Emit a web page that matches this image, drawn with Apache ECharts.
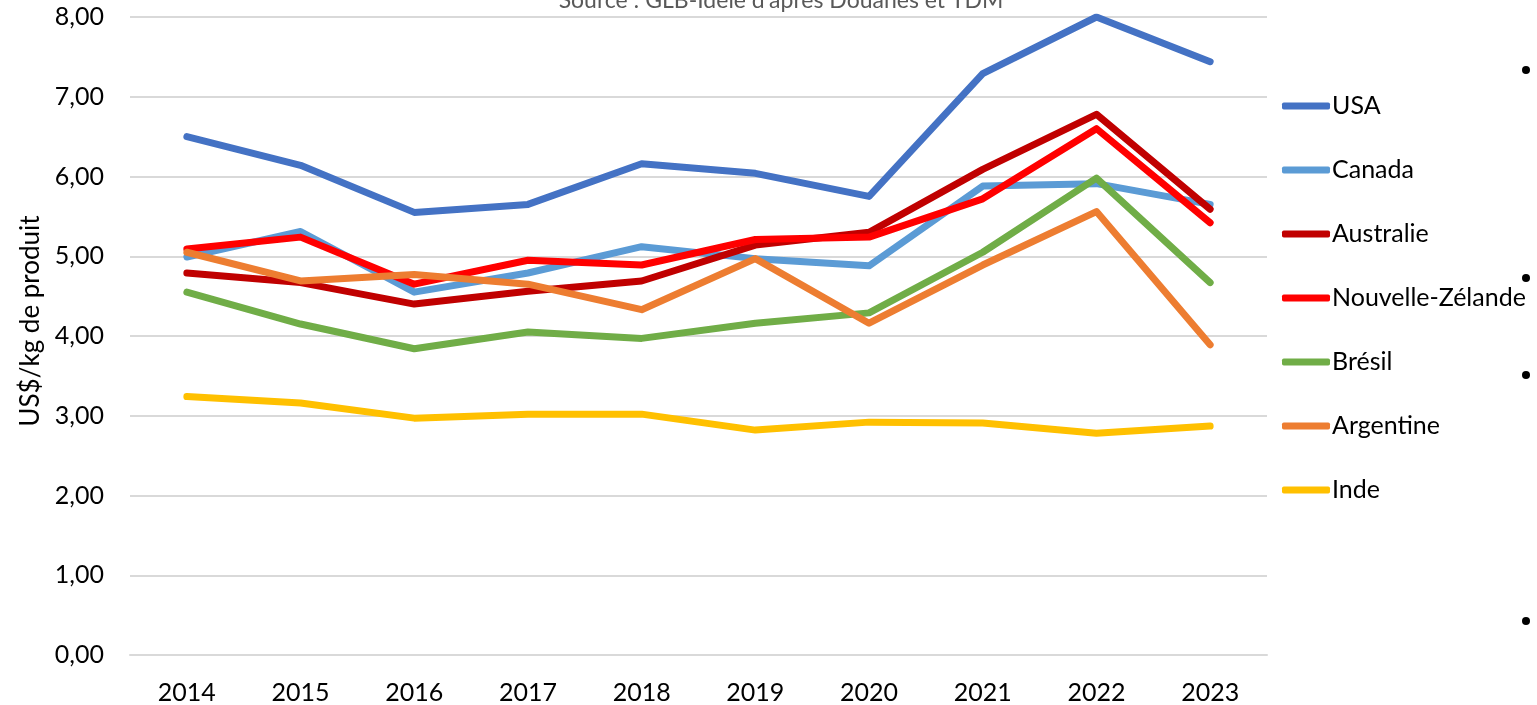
<!DOCTYPE html>
<html>
<head>
<meta charset="utf-8">
<script src="https://cdn.jsdelivr.net/npm/echarts@6/dist/echarts.min.js"></script>
<style>
  html, body { margin: 0; padding: 0; background: #fff; }
  #main { width: 1537px; height: 705px; }
</style>
</head>
<body>
<div id="main"></div>
<script>
// données (US$/kg de produit)
var years = ['2014', '2015', '2016', '2017', '2018', '2019', '2020', '2021', '2022', '2023'];
var usa = [6.50, 6.14, 5.55, 5.65, 6.16, 6.04, 5.75, 7.29, 8.00, 7.44];
var canada = [4.99, 5.31, 4.55, 4.79, 5.12, 4.97, 4.88, 5.88, 5.91, 5.65];
var australie = [4.79, 4.67, 4.40, 4.56, 4.69, 5.14, 5.30, 6.09, 6.78, 5.59];
var nouvelleZelande = [5.09, 5.24, 4.65, 4.95, 4.89, 5.21, 5.24, 5.72, 6.60, 5.42];
var bresil = [4.55, 4.15, 3.84, 4.05, 3.97, 4.16, 4.29, 5.05, 5.98, 4.67];
var argentine = [5.05, 4.69, 4.77, 4.65, 4.33, 4.97, 4.16, 4.89, 5.56, 3.89];
var inde = [3.24, 3.16, 2.97, 3.02, 3.02, 2.82, 2.92, 2.91, 2.78, 2.87];

var seriesNames = ['USA', 'Canada', 'Australie', 'Nouvelle-Zélande', 'Brésil', 'Argentine', 'Inde'];
var seriesData = [usa, canada, australie, nouvelleZelande, bresil, argentine, inde];
var colors = ['#4472C4', '#5B9BD5', '#C00000', '#FF0000', '#70AD47', '#ED7D31', '#FFC000'];

var font = 'Lato';

var myChart = echarts.init(document.getElementById('main'));

// puces noires sur la droite
var bulletY = [70, 278, 375, 621];

var option = {
    animation: false,
    backgroundColor: '#fff',
    color: colors,
    title: {
        text: "Source : GLB-Idele d'après Douanes et TDM",
        left: 776,
        textAlign: 'center',
        top: -16,
        textStyle: { fontFamily: font, fontSize: 23, fontWeight: 'normal', color: '#595959' }
    },
    grid: { left: 130, right: 270, top: 17, bottom: 50, containLabel: false },
    legend: {
        orient: 'vertical',
        left: 1277,
        top: 87,
        icon: 'roundRect',
        itemWidth: 48,
        itemHeight: 7,
        itemGap: 36,
        textStyle: { fontFamily: font, fontSize: 25, color: '#000', lineHeight: 28, padding: [0, 0, 0, -3] },
        data: seriesNames
    },
    xAxis: {
        type: 'category',
        data: years,
        boundaryGap: true,
        axisLine: { show: true, lineStyle: { color: '#d9d9d9', width: 2 } },
        axisTick: { show: false },
        axisLabel: { fontFamily: font, fontSize: 25, color: '#000', margin: 25 }
    },
    yAxis: {
        type: 'value',
        min: 0,
        max: 8,
        interval: 1,
        name: 'US$/kg de produit',
        nameLocation: 'middle',
        nameGap: 86,
        nameTextStyle: { fontFamily: font, fontSize: 26, color: '#000', padding: [0, 0, 0, 30] },
        axisLine: { show: false },
        axisTick: { show: false },
        splitLine: { lineStyle: { color: '#d9d9d9', width: 2 } },
        axisLabel: {
            fontFamily: font, fontSize: 25, color: '#000', margin: 26,
            formatter: function (v) { return v.toFixed(2).replace('.', ','); }
        }
    },
    graphic: bulletY.map(function (y) {
        return { type: 'circle', shape: { cx: 1526, cy: y, r: 4 }, style: { fill: '#000' } };
    }),
    series: seriesNames.map(function (name, i) {
        return {
            name: name,
            type: 'line',
            data: seriesData[i],
            showSymbol: false,
            symbol: 'none',
            lineStyle: { width: 7, color: colors[i], cap: 'round', join: 'round' },
            itemStyle: { color: colors[i] }
        };
    })
};

myChart.setOption(option);
</script>
</body>
</html>
